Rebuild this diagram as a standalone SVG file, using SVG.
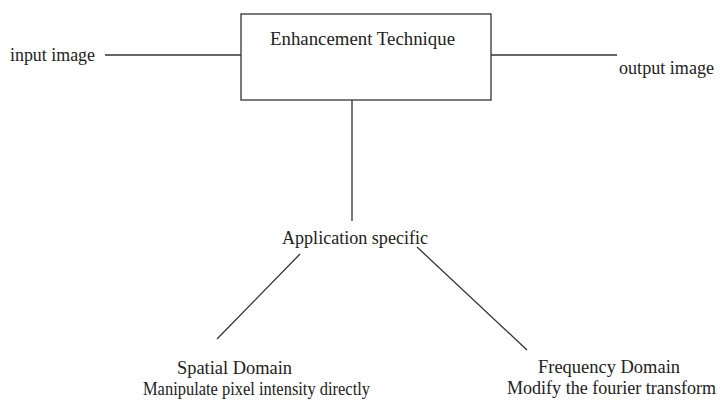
<svg xmlns="http://www.w3.org/2000/svg" width="723" height="408" viewBox="0 0 723 408">
<style>
text{font-family:"Liberation Serif","Times New Roman",serif;font-size:19px;fill:#222}
.ln{stroke:#333;stroke-width:1.3;fill:none}
</style>
<rect width="723" height="408" fill="#fff"/>
<g id="connectors">
<line class="ln" x1="105" y1="55" x2="241" y2="55"/>
<line class="ln" x1="491" y1="55" x2="617" y2="55"/>
<line class="ln" x1="352" y1="100" x2="352" y2="221"/>
<line class="ln" x1="300" y1="254" x2="217" y2="339"/>
<line class="ln" x1="417" y1="247" x2="527" y2="350"/>
</g>
<g id="input"><text x="10" y="61" textLength="85" lengthAdjust="spacingAndGlyphs">input image</text></g>
<g id="technique"><rect class="ln" x="241" y="14" width="250" height="86"/><text x="270" y="45" textLength="185" lengthAdjust="spacingAndGlyphs">Enhancement Technique</text></g>
<g id="output"><text x="619" y="74" textLength="95" lengthAdjust="spacingAndGlyphs">output image</text></g>
<g id="application"><text x="282" y="244" textLength="146" lengthAdjust="spacingAndGlyphs">Application specific</text></g>
<g id="spatial"><text x="177" y="374" textLength="115" lengthAdjust="spacingAndGlyphs">Spatial Domain</text><text x="143" y="395" textLength="227" lengthAdjust="spacingAndGlyphs">Manipulate pixel intensity directly</text></g>
<g id="frequency"><text x="538" y="373" textLength="142" lengthAdjust="spacingAndGlyphs">Frequency Domain</text><text x="507" y="394" textLength="209" lengthAdjust="spacingAndGlyphs" style="font-size:18px">Modify the fourier transform</text></g>
</svg>
